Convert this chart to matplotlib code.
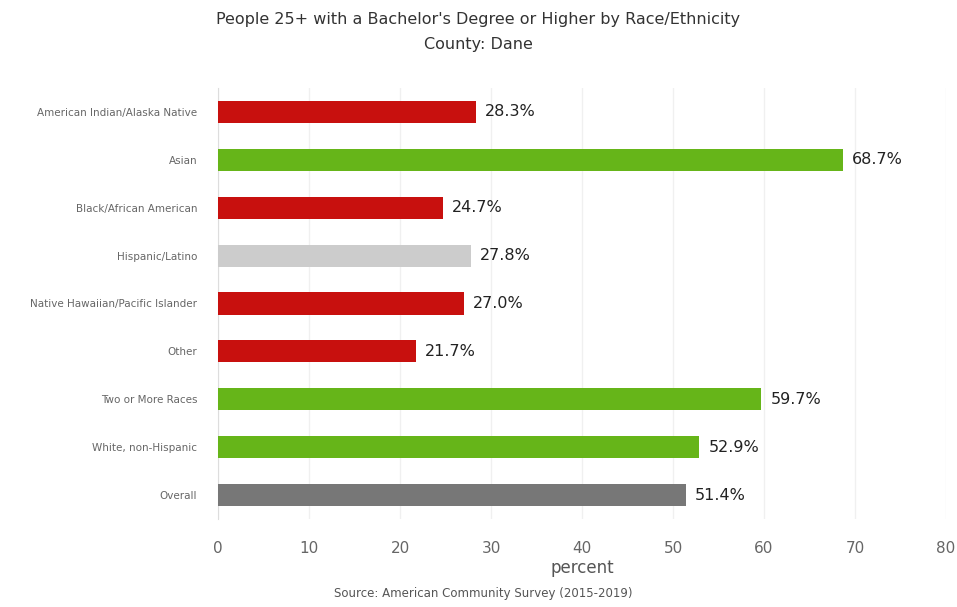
import matplotlib.pyplot as plt

categories = [
    "American Indian/Alaska Native",
    "Asian",
    "Black/African American",
    "Hispanic/Latino",
    "Native Hawaiian/Pacific Islander",
    "Other",
    "Two or More Races",
    "White, non-Hispanic",
    "Overall",
]
values = [28.3, 68.7, 24.7, 27.8, 27.0, 21.7, 59.7, 52.9, 51.4]
bar_colors = ["#c8100e", "#66b519", "#c8100e", "#cccccc", "#c8100e",
              "#c8100e", "#66b519", "#66b519", "#777777"]
x_ticks = [0, 10, 20, 30, 40, 50, 60, 70, 80]

fig = plt.figure(figsize=(9.57, 6.07), dpi=100)
ax = fig.add_axes([0.228, 0.145, 0.7605, 0.71])

pos = list(range(len(categories)))
ax.barh(pos, values, height=0.46, color=bar_colors, zorder=3)
for p, v in zip(pos, values):
    ax.text(v + 1.0, p, f"{v:.1f}%", va="center", ha="left",
            fontsize=11.5, color="#222222", zorder=4)

ax.set_ylim(len(categories) - 0.5, -0.5)
ax.set_yticks(pos)
ax.set_yticklabels(categories, fontsize=7.5, color="#666666")
ax.set_xlim(0, 80)
ax.set_xticks(x_ticks)
ax.set_xticklabels([str(t) for t in x_ticks], fontsize=11, color="#666666")
ax.tick_params(axis="y", length=0, pad=15)
ax.tick_params(axis="x", length=0, pad=16)
ax.grid(axis="x", color="#f0f0f0", linewidth=1, zorder=0)
for side in ["top", "right", "bottom"]:
    ax.spines[side].set_visible(False)
ax.spines["left"].set_color("#dddddd")

ax.set_xlabel("percent", fontsize=12, color="#555555", labelpad=2)

fig.text(0.5, 0.968, "People 25+ with a Bachelor's Degree or Higher by Race/Ethnicity",
         ha="center", va="center", fontsize=11.5, color="#333333")
fig.text(0.5, 0.927, "County: Dane", ha="center", va="center",
         fontsize=11.5, color="#333333")
fig.text(0.505, 0.022, "Source: American Community Survey (2015-2019)",
         ha="center", va="center", fontsize=8.5, color="#555555")

fig.savefig("out.png", dpi=100)
